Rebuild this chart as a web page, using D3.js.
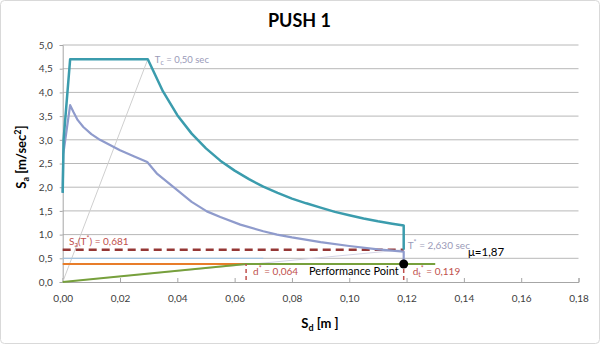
<!DOCTYPE html>
<html><head><meta charset="utf-8">
<script src="https://cdn.jsdelivr.net/npm/d3@7"></script>
<style>html,body{margin:0;padding:0;background:#fff;}svg{display:block;font-family:Lato,"Open Sans",sans-serif;}</style>
</head><body>
<svg id="c" width="600" height="344"></svg>
<script>
// ---- data ----
const xTicks = [0,0.02,0.04,0.06,0.08,0.10,0.12,0.14,0.16,0.18];
const yTicks = [0,0.5,1,1.5,2,2.5,3,3.5,4,4.5,5];
// elastic ADRS (teal)
const elasticSd = [0,0.0003,0.0026,0.0297,0.035,0.040,0.045,0.050,0.055,0.060,0.065,0.070,0.075,0.080,0.085,0.090,0.095,0.100,0.105,0.110,0.115,0.119,0.119];
const elasticSa = [1.88,3.0,4.70,4.70,4.02,3.52,3.13,2.82,2.56,2.35,2.17,2.01,1.88,1.76,1.66,1.57,1.48,1.41,1.34,1.28,1.23,1.19,0.68];
// inelastic spectrum (lavender)
const inelasticSd = [0,0.0002,0.0026,0.0038,0.0052,0.0072,0.010,0.013,0.0165,0.020,0.025,0.0295,0.033,0.0387,0.045,0.0503,0.055,0.062,0.070,0.0748,0.080,0.090,0.100,0.110,0.119,0.119];
const inelasticSa = [1.88,2.7,3.73,3.58,3.42,3.27,3.12,3.00,2.89,2.78,2.65,2.53,2.28,2.00,1.69,1.49,1.37,1.21,1.07,1.00,0.94,0.84,0.76,0.69,0.64,0.38];
// bilinear capacity curve (green) and yield level (orange)
const capacitySd = [0,0.064,0.13];
const capacitySa = [0,0.38,0.38];
const yieldSd = [0,0.064];
const yieldSa = [0.38,0.38];
const blueSd = [0,0.07];
const blueSa = [0.5,0.5];
// period lines
const tcLineSd = [0,0.0297];
const tcLineSa = [0,4.70];
const tStarLineSd = [0,0.119];
const tStarLineSa = [0,0.681];
// key values
const dStar = 0.064, dtStar = 0.119, saTStar = 0.681, perfSa = 0.38;

const svg = d3.select("#c");
const x = d3.scaleLinear().domain([0,0.18]).range([62.7,578.5]);
const y = d3.scaleLinear().domain([0,5]).range([282,45]);
const fmt = (d,p)=>d3.format("."+p+"f")(d).replace(".",",");

// chart border
svg.append("rect").attr("x",0.5).attr("y",0.5).attr("width",599).attr("height",343).attr("rx",4)
  .attr("fill","none").attr("stroke","#d9d9d9");

// gridlines
svg.append("g").selectAll("line").data(yTicks.filter(d=>d>0)).join("line")
  .attr("x1",x(0)).attr("x2",x(0.18)).attr("y1",d=>y(d)).attr("y2",d=>y(d))
  .attr("stroke","#b8b8b8").attr("stroke-width",1);

// axes
const xa = svg.append("g").attr("transform",`translate(0,${y(0)})`)
  .call(d3.axisBottom(x).tickValues(xTicks).tickSize(-4).tickPadding(13).tickFormat(d=>fmt(d,2)));
const ya = svg.append("g").attr("transform",`translate(${x(0)},0)`)
  .call(d3.axisLeft(y).tickValues(yTicks).tickSize(3).tickPadding(7).tickFormat(d=>fmt(d,1)));
[xa,ya].forEach(g=>{
  g.select(".domain").attr("stroke","#a6a6a6");
  g.selectAll(".tick line").attr("stroke","#a6a6a6");
  g.selectAll(".tick text").attr("fill","#404040").style("font-size","10px").style("font-family","Lato,sans-serif");
});

const line = d3.line().x(d=>x(d[0])).y(d=>y(d[1]));
const zip = (a,b)=>a.map((v,i)=>[v,b[i]]);

// period lines
svg.append("path").attr("d",line(zip(tcLineSd,tcLineSa))).attr("fill","none").attr("stroke","#cfcfcf").attr("stroke-width",1);
svg.append("path").attr("d",line(zip(tStarLineSd,tStarLineSa))).attr("fill","none").attr("stroke","#d4d4e4").attr("stroke-width",1);
// blue line at 0.5
svg.append("path").attr("d",line(zip(blueSd,blueSa))).attr("fill","none").attr("stroke","#9dc3e6").attr("stroke-width",1);
// yield (orange)
svg.append("path").attr("d",line(zip(yieldSd,yieldSa))).attr("fill","none").attr("stroke","#e87d2a").attr("stroke-width",2.2);
// capacity (green)
svg.append("path").attr("d",line(zip(capacitySd,capacitySa))).attr("fill","none").attr("stroke","#77a03c").attr("stroke-width",2);
// dashed Sa(T*)
svg.append("path").attr("d",line([[0,saTStar],[dtStar,saTStar]])).attr("fill","none")
  .attr("stroke","#953735").attr("stroke-width",2.5).attr("stroke-dasharray","8,5");
// dashed verticals
[dStar,dtStar].forEach(v=>{
  svg.append("path").attr("d",line([[v,perfSa],[v,0]])).attr("fill","none")
    .attr("stroke","#c0504d").attr("stroke-width",1.5).attr("stroke-dasharray","4,3").attr("stroke-dashoffset",2);
});
// inelastic (lavender)
svg.append("path").attr("d",line(zip(inelasticSd,inelasticSa))).attr("fill","none")
  .attr("stroke","#8f9bcc").attr("stroke-width",2.2).attr("stroke-linejoin","round");
// elastic (teal)
svg.append("path").attr("d",line(zip(elasticSd,elasticSa))).attr("fill","none")
  .attr("stroke","#3b9cad").attr("stroke-width",2.5).attr("stroke-linejoin","round");
// performance point
svg.append("circle").attr("cx",x(dtStar)).attr("cy",y(perfSa)).attr("r",4.5).attr("fill","#000");

// title
svg.append("text").attr("x",299.5).attr("y",27).attr("text-anchor","middle")
  .style("font-size","18px").style("font-weight","bold").attr("fill","#000").text("PUSH 1");

// axis titles
const yl = svg.append("text").attr("transform","translate(26,157) rotate(-90)").attr("text-anchor","middle")
  .style("font-size","13px").style("font-weight","bold").attr("fill","#000");
yl.append("tspan").text("S");
yl.append("tspan").attr("dy",3).style("font-size","9px").text("a");
yl.append("tspan").attr("dy",-3).text(" [m/sec");
yl.append("tspan").attr("dy",-5).style("font-size","9px").text("2");
yl.append("tspan").attr("dy",5).text("]");

const xl = svg.append("text").attr("x",320).attr("y",328).attr("text-anchor","middle")
  .style("font-size","13px").style("font-weight","bold").attr("fill","#000");
xl.append("tspan").text("S");
xl.append("tspan").attr("dy",3).style("font-size","9px").text("d");
xl.append("tspan").attr("dy",-3).text(" [m ]");

// Tc
const tc = svg.append("text").attr("x",x(0.0297)+7).attr("y",y(4.70)+4).style("font-size","9.5px").attr("fill","#9a9ab8");
tc.append("tspan").text("T");
tc.append("tspan").attr("dy",2).style("font-size","7px").text("c");
tc.append("tspan").attr("dy",-2).text(" = "+fmt(0.50,2)+"  sec");
// T*
const ts = svg.append("text").attr("x",x(dtStar)+4).attr("y",y(0.78)+4).style("font-size","10px").attr("fill","#9a9ab8");
ts.append("tspan").text("T");
ts.append("tspan").attr("dy",-4).style("font-size","7px").text("*");
ts.append("tspan").attr("dy",4).text(" = "+fmt(2.630,3)+"  sec");
// mu
svg.append("text").attr("x",468).attr("y",256).style("font-size","11.5px").attr("fill","#000").text("μ=1,87");
// Sa(T*)
const sa = svg.append("text").attr("x",69).attr("y",y(saTStar)-5).style("font-size","10px").attr("fill","#c0504d");
sa.append("tspan").text("S");
sa.append("tspan").attr("dy",2).style("font-size","7px").text("a");
sa.append("tspan").attr("dy",-2).text("(T");
sa.append("tspan").attr("dy",-4).style("font-size","7px").text("*");
sa.append("tspan").attr("dy",4).text(") = "+fmt(saTStar,3));
// d*
const ds = svg.append("text").attr("x",x(dStar)+7).attr("y",274.5).style("font-size","10px").attr("fill","#c0504d");
ds.append("tspan").text("d");
ds.append("tspan").attr("dy",-4).style("font-size","7px").text("*");
ds.append("tspan").attr("dy",4).text(" = "+fmt(dStar,3));
// dt*
const dt = svg.append("text").attr("x",x(dtStar)+9).attr("y",274.5).style("font-size","10px").attr("fill","#c0504d");
dt.append("tspan").text("d");
dt.append("tspan").attr("dy",2).style("font-size","7px").text("t");
dt.append("tspan").attr("dy",-6).style("font-size","7px").text("*");
dt.append("tspan").attr("dy",4).text(" = "+fmt(dtStar,3));
// performance point
svg.append("text").attr("x",x(dtStar)-5).attr("y",275).attr("text-anchor","end")
  .style("font-size","11px").attr("fill","#000").text("Performance Point");
</script>
</body></html>
